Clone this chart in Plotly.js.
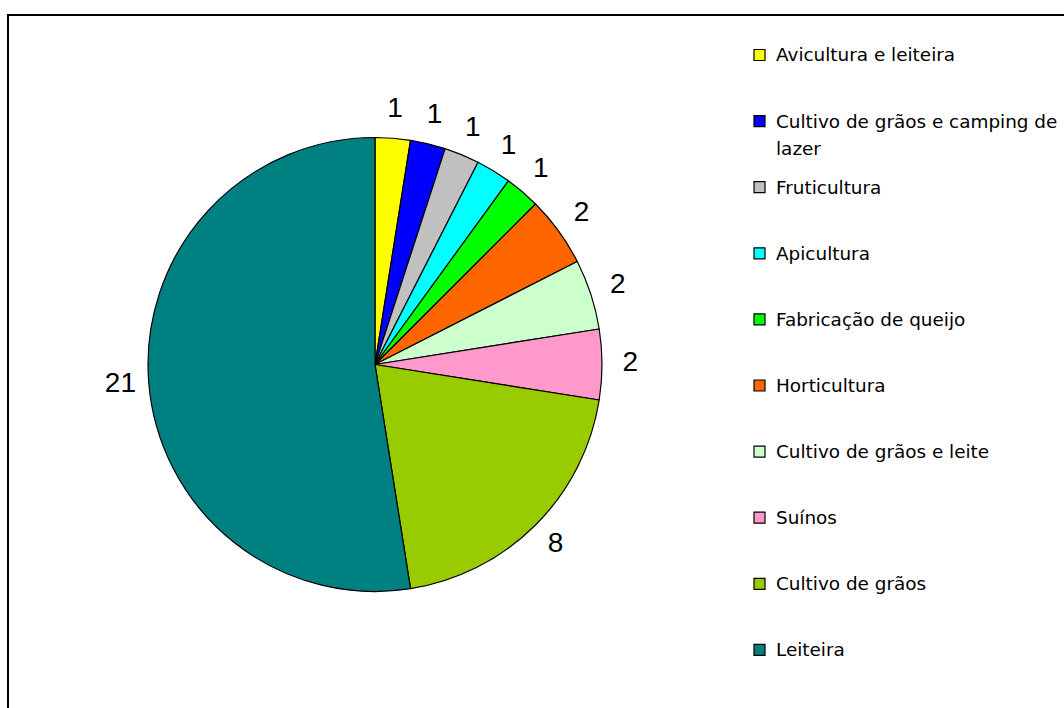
<!DOCTYPE html>
<html>
<head>
<meta charset="utf-8">
<script src="https://cdn.plot.ly/plotly-3.0.1.min.js"></script>
<style>
  html, body { margin: 0; padding: 0; background: #ffffff; }
  #chart { width: 1064px; height: 708px; }
</style>
</head>
<body>
<div id="chart"></div>
<script>
// ---- data ----
const categories = [
  "Avicultura e leiteira",
  "Cultivo de grãos e camping de lazer",
  "Fruticultura",
  "Apicultura",
  "Fabricação de queijo",
  "Horticultura",
  "Cultivo de grãos e leite",
  "Suínos",
  "Cultivo de grãos",
  "Leiteira"
];
const values = [1, 1, 1, 1, 1, 2, 2, 2, 8, 21];
const colors = [
  "#FFFF00", "#0000FF", "#C0C0C0", "#00FFFF", "#00FF00",
  "#FF6600", "#CCFFCC", "#FF99CC", "#99CC00", "#008080"
];

// ---- layout helpers ----
const W = 1064, H = 708;
const px = x => x / W;
const py = y => (H - y) / H;
const pieCx = 375, pieCy = 364.5, pieR = 227;
const pieDomain = { x: [px(pieCx - pieR), px(pieCx + pieR)], y: [py(pieCy + pieR), py(pieCy - pieR)] };
// the polar subplot used for the value labels is larger, so that
// radius 1 of its scale coincides with the pie edge
const polarMax = 1.3;
const pR = pieR * polarMax;
const polarDomain = { x: [px(pieCx - pR), px(pieCx + pR)], y: [py(pieCy + pR), py(pieCy - pR)] };

const pie = {
  type: "pie",
  labels: categories,
  values: values,
  sort: false,
  direction: "clockwise",
  rotation: 0,
  marker: { colors: colors, line: { color: "#000000", width: 1.2 } },
  textinfo: "none",
  domain: pieDomain,
  showlegend: false,
  hoverinfo: "label+value"
};

// value labels at the mid-angle of each slice (angles derived from the values)
const total = values.reduce((a, b) => a + b, 0);
let cum = 0;
const midAngles = values.map(v => { const m = (cum + v / 2) / total * 360; cum += v; return m; });
const labelTrace = {
  type: "scatterpolar",
  subplot: "polar",
  mode: "text",
  theta: midAngles,
  r: values.map(() => 1.125),
  text: values.map(String),
  textposition: "middle center",
  textfont: { family: "Liberation Sans, Arial, sans-serif", size: 28, color: "#000000" },
  cliponaxis: false,
  showlegend: false,
  hoverinfo: "skip"
};

// custom legend, built from the category and colour arrays
function wrapLabel(s, maxChars) {
  if (s.length <= maxChars) return [s];
  const cut = s.lastIndexOf(" ", maxChars);
  return [s.slice(0, cut), s.slice(cut + 1)];
}

const shapes = [];
const annotations = [];
const legendTop = 55, legendStep = 66.1, lineStep = 27.5;
categories.forEach((c, i) => {
  const yc = legendTop + i * legendStep;
  shapes.push({
    type: "rect", xref: "paper", yref: "paper",
    x0: px(754), x1: px(765), y0: py(yc + 5.5), y1: py(yc - 5.5),
    fillcolor: colors[i], line: { color: "#000000", width: 1.2 }
  });
  wrapLabel(c, 30).forEach((line, k) => {
    annotations.push({
      xref: "paper", yref: "paper",
      x: px(774), y: py(yc + k * lineStep),
      xanchor: "left", yanchor: "middle",
      text: line, showarrow: false,
      font: { family: "DejaVu Sans, sans-serif", size: 18.4, color: "#000000" }
    });
  });
});

// chart frame (right and bottom edges lie beyond the visible area)
shapes.push({
  type: "rect", xref: "paper", yref: "paper",
  x0: px(8), x1: px(1080), y0: py(730), y1: py(15),
  line: { color: "#000000", width: 2 }, fillcolor: "rgba(0,0,0,0)"
});

const layout = {
  width: W, height: H,
  margin: { l: 0, r: 0, t: 0, b: 0 },
  paper_bgcolor: "#ffffff",
  plot_bgcolor: "#ffffff",
  showlegend: false,
  polar: {
    domain: polarDomain,
    bgcolor: "rgba(0,0,0,0)",
    angularaxis: { visible: false, rotation: 90, direction: "clockwise", showgrid: false, showline: false },
    radialaxis: { visible: false, range: [0, polarMax], showgrid: false, showline: false }
  },
  shapes: shapes,
  annotations: annotations,
  font: { family: "Liberation Sans, Arial, sans-serif", color: "#000000" }
};

Plotly.newPlot("chart", [pie, labelTrace], layout, { displayModeBar: false, staticPlot: true });
</script>
</body>
</html>
